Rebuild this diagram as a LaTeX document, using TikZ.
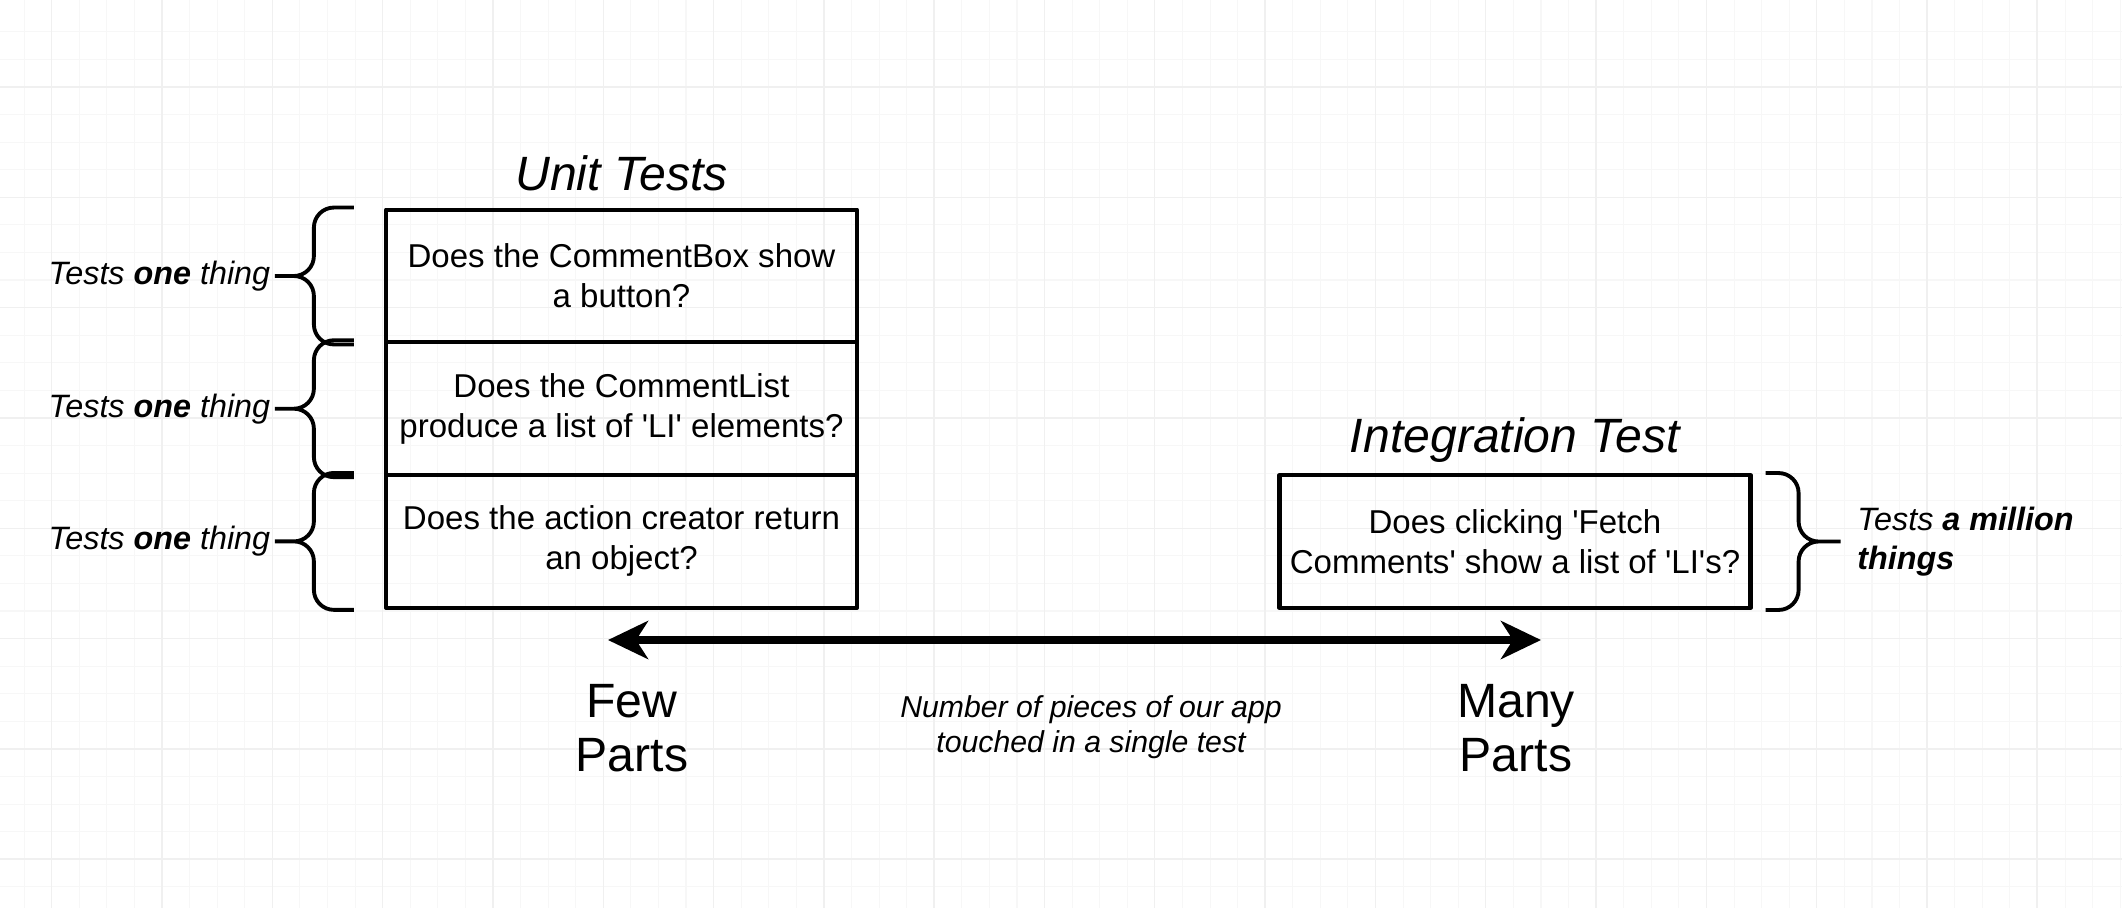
\documentclass[tikz,border=0pt]{standalone}
\usepackage{fontspec}
\setmainfont{Liberation Sans}
\usetikzlibrary{positioning,arrows.meta}
\tikzset{
  testbox/.style={draw, line width=1.2pt, minimum width=47.1mm, minimum height=13.27mm,
    inner sep=0pt, align=center, font=\fontsize{9.4}{11.4}\selectfont},
  heading/.style={inner sep=0pt, font=\fontsize{13.7}{15.4}\selectfont\itshape},
  brace/.style={line width=1.1pt, rounded corners=2mm},
  bracelbl/.style={inner sep=0pt, align=left, font=\fontsize{9.2}{11}\selectfont\itshape},
  endlbl/.style={inner sep=0pt, align=center, font=\fontsize{13.7}{15.4}\selectfont},
}
\begin{document}
\begin{tikzpicture}[x=0.1mm, y=-0.1mm, line join=round, >={Stealth[length=4mm,width=3.8mm,inset=1.2mm]}]
		\useasboundingbox (0,0) rectangle (2122,908);
		% background grid
		\foreach \i in {0,...,76} \draw[black!3, line width=0.3pt] (24.1+27.58*\i,0)--++(0,908);
		\foreach \i in {0,...,31} \draw[black!3, line width=0.3pt] (0,31.8+27.58*\i)--++(2122,0);
		\foreach \i in {0,...,18} \draw[black!6, line width=0.4pt] (51.7+110.3*\i,0)--++(0,908);
		\foreach \i in {0,...,7} \draw[black!6, line width=0.4pt] (0,87+110.3*\i)--++(2122,0);
		% unit tests
		\node[testbox] (r1) at (621.5,276) {Does the CommentBox show\\a button?};
		\node[testbox, below=-1.2pt of r1] (r2) {Does the CommentList\\produce a list of \textquotesingle LI\textquotesingle\ elements?};
		\node[testbox, below=-1.2pt of r2] (r3) {Does the action creator return\\an object?};
		\node[heading, above=1.6mm of r1] (unit) {Unit Tests};
		\foreach \r in {r1,r2,r3}{
			\draw[brace] ([xshift=-3mm]\r.north west)--([xshift=-7mm]\r.north west)--([xshift=-7mm]\r.west)--([xshift=-10.9mm]\r.west) coordinate (t\r)
				([xshift=-10.9mm]\r.west)--([xshift=-7mm]\r.west)--([xshift=-7mm]\r.south west)--([xshift=-3mm]\r.south west);
			\node[bracelbl, left=0.4mm of t\r] (l\r) {Tests \textbf{one} thing};
		}
		% integration test
		\node[testbox] (integ) at (1515,541.5) {Does clicking \textquotesingle Fetch\\Comments\textquotesingle\ show a list of \textquotesingle LI\textquotesingle s?};
		\node[heading, above=1mm of integ] (integtitle) {Integration Test};
		\draw[brace] ([xshift=1.3mm]integ.north east)--([xshift=4.6mm]integ.north east)--([xshift=4.6mm]integ.east)--([xshift=8.8mm]integ.east) coordinate (tint)
			([xshift=8.8mm]integ.east)--([xshift=4.6mm]integ.east)--([xshift=4.6mm]integ.south east)--([xshift=1.3mm]integ.south east);
		\node[bracelbl, right=1.6mm of tint] (lint) {Tests \textbf{a million}\\\textbf{things}};
		% scale
		\coordinate (few) at (608,640);
		\coordinate (many) at (1541,640);
		\draw[<->, line width=2.2pt] (few)--(many);
		\node[endlbl] (fewlbl) at (632,728) {Few\\Parts};
		\node[endlbl] (manylbl) at (1516,728) {Many\\Parts};
		\node[inner sep=0pt, align=center, font=\fontsize{8.6}{10}\selectfont\itshape] (axis) at (1091,727) {Number of pieces of our app\\touched in a single test};
\end{tikzpicture}
\end{document}
